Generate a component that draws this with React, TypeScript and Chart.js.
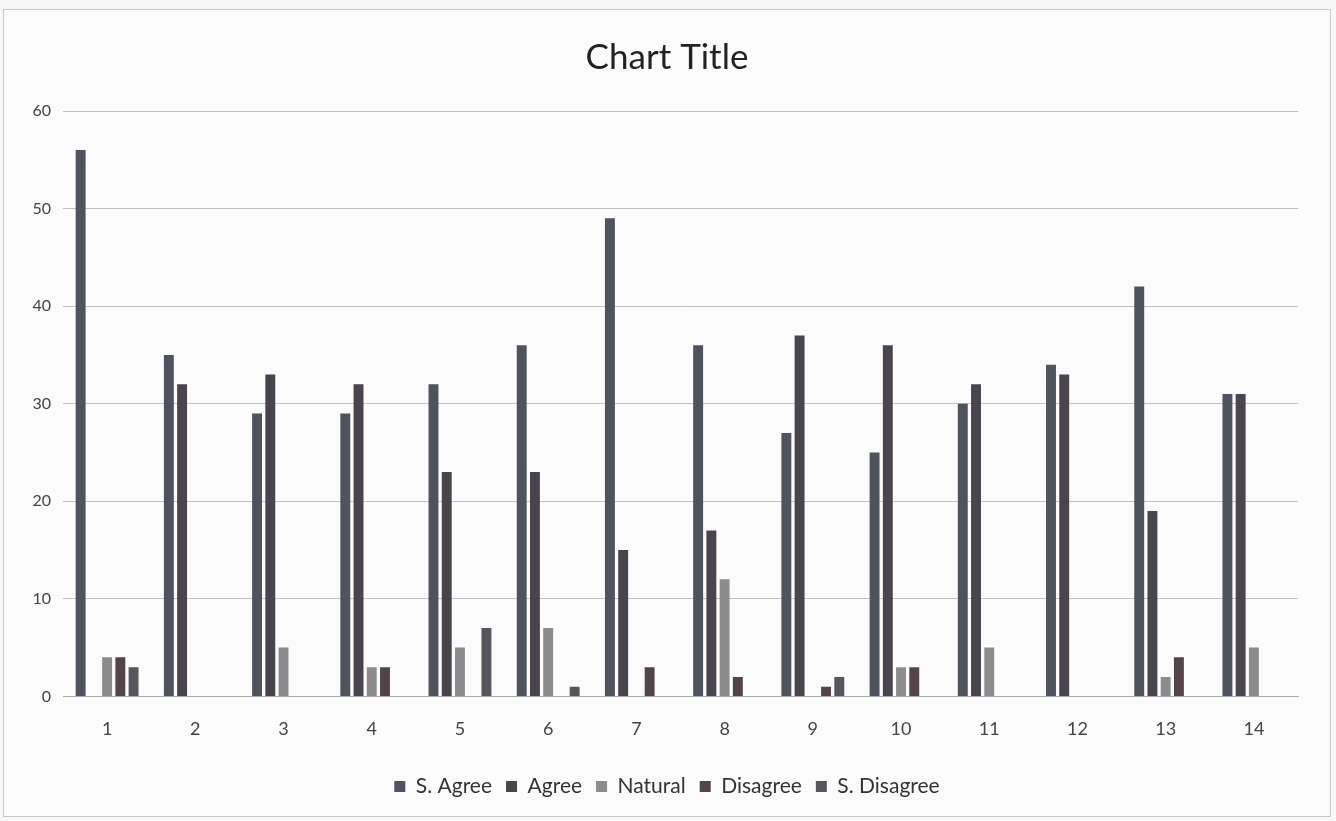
import React, { useEffect, useRef } from "react";
import { Chart, registerables } from "chart.js";

Chart.register(...registerables);

const categories = ["1", "2", "3", "4", "5", "6", "7", "8", "9", "10", "11", "12", "13", "14"];
const sAgree = [56, 35, 29, 29, 32, 36, 49, 36, 27, 25, 30, 34, 42, 31];
const agree = [0, 32, 33, 32, 23, 23, 15, 17, 37, 36, 32, 33, 19, 31];
const natural = [4, 0, 5, 3, 5, 7, 0, 12, 0, 3, 5, 0, 2, 5];
const disagree = [4, 0, 0, 3, 0, 0, 3, 2, 1, 3, 0, 0, 4, 0];
const sDisagree = [3, 0, 0, 0, 7, 1, 0, 0, 2, 0, 0, 0, 0, 0];
const seriesNames = ["S. Agree", "Agree", "Natural", "Disagree", "S. Disagree"];
const seriesColors = ["#4e535e", "#4a444e", "#8c8c8e", "#524449", "#57555e"];

const FONT = "Lato, 'Open Sans', sans-serif";

export default function App() {
  const canvasRef = useRef<HTMLCanvasElement | null>(null);

  useEffect(() => {
    const canvas = canvasRef.current;
    if (!canvas) return;
    const values = [sAgree, agree, natural, disagree, sDisagree];
    const chart = new Chart(canvas, {
      type: "bar",
      data: {
        labels: categories,
        datasets: values.map((v, i) => ({
          label: seriesNames[i],
          data: v,
          backgroundColor: seriesColors[i],
          borderWidth: 0,
          categoryPercentage: 0.75,
          barPercentage: 0.75,
        })),
      },
      options: {
        animation: false,
        responsive: false,
        maintainAspectRatio: false,
        layout: { padding: { left: 0, right: 0, top: 0, bottom: 9 } },
        plugins: {
          title: {
            display: true,
            text: "Chart Title",
            color: "#222222",
            font: { family: FONT, size: 35, weight: "normal" },
            padding: { top: 27, bottom: 32 },
          },
          legend: {
            display: true,
            position: "bottom",
            labels: {
              color: "#333333",
              font: { family: FONT, size: 21 },
              boxWidth: 11,
              boxHeight: 11,
              padding: 14,
            },
          },
          tooltip: { enabled: false },
        },
        scales: {
          x: {
            grid: { display: false, drawTicks: false },
            border: { display: true, color: "#a9a9a9", width: 1 },
            ticks: { color: "#444444", font: { family: FONT, size: 18 }, padding: 22 },
          },
          y: {
            min: 0,
            max: 60,
            afterFit: (scale: any) => {
              scale.width = 59;
            },
            grid: { color: "#c0c0c0", lineWidth: 1, drawTicks: false },
            border: { display: false },
            ticks: { stepSize: 10, color: "#444444", font: { family: FONT, size: 16 }, padding: 12 },
          },
          yRight: {
            position: "right",
            display: true,
            min: 0,
            max: 60,
            afterFit: (scale: any) => {
              scale.width = 32;
            },
            grid: { display: false, drawTicks: false },
            border: { display: false },
            ticks: { display: false },
          },
        },
      },
    });
    return () => chart.destroy();
  }, []);

  return (
    <div style={{ position: "fixed", left: 0, top: 0, width: 1336, height: 821, background: "#f7f7f7" }}>
      <div
        style={{
          position: "absolute",
          left: 3,
          top: 9,
          width: 1326,
          height: 806,
          border: "1px solid #c8c8c8",
          background: "#fbfbfb",
        }}
      >
        <canvas ref={canvasRef} width={1326} height={806} style={{ display: "block" }} />
      </div>
    </div>
  );
}
